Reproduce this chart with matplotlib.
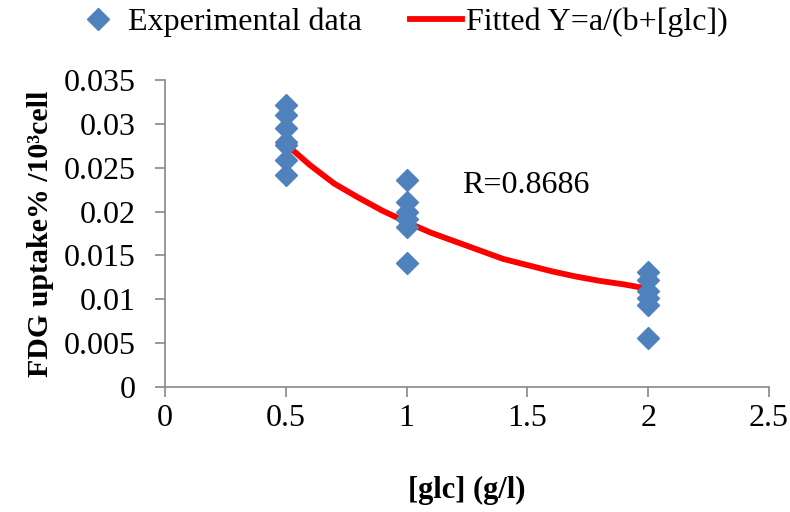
import matplotlib.pyplot as plt
import numpy as np

# ----- Data ----- #
glc_exp = [0.5, 0.5, 0.5, 0.5, 0.5, 0.5, 0.5,
           1, 1, 1, 1, 1, 1,
           2, 2, 2, 2, 2, 2]
uptake_exp = [0.0321, 0.0310, 0.0295, 0.0279, 0.0276, 0.0259, 0.0242,
              0.0236, 0.0211, 0.0199, 0.0192, 0.0183, 0.0141,
              0.0131, 0.0122, 0.0110, 0.0101, 0.0094, 0.0056]

glc_fit = [0.5, 0.6, 0.7, 0.8, 0.9, 1.0, 1.1, 1.2,
           1.3, 1.4, 1.5, 1.6, 1.7, 1.8, 1.9, 2.0]
uptake_fit = [0.0277, 0.0253, 0.0232, 0.0216, 0.0201, 0.0188, 0.0176, 0.0166,
              0.0156, 0.0146, 0.0139, 0.0132, 0.0126, 0.0121, 0.0117, 0.0112]

x_ticks = [0, 0.5, 1, 1.5, 2, 2.5]
x_tick_labels = ["0", "0.5", "1", "1.5", "2", "2.5"]
y_ticks = [0, 0.005, 0.01, 0.015, 0.02, 0.025, 0.03, 0.035]
y_tick_labels = ["0", "0.005", "0.01", "0.015", "0.02", "0.025", "0.03", "0.035"]

# ----- Plotting ----- #
plt.rcParams['font.family'] = ['Liberation Serif', 'DejaVu Serif']
plt.rcParams['font.size'] = 23

fig = plt.figure(figsize=(7.9, 5.12), dpi=100)
ax = fig.add_axes([0.2089, 0.2441, 0.7645, 0.5996])

ax.plot(glc_exp, uptake_exp, linestyle='none', marker='D', markersize=11,
        color='#4F81BD', label='Experimental data', zorder=3)
ax.plot(glc_fit, uptake_fit, color='#FF0000', linewidth=4.2,
        label='Fitted Y=a/(b+[glc])', zorder=2)

ax.text(1.23, 0.0230, 'R=0.8686', fontsize=23, va='center', ha='left')

ax.set_xlim(0, 2.5)
ax.set_ylim(0, 0.035)
ax.set_xticks(x_ticks)
ax.set_xticklabels(x_tick_labels)
ax.set_yticks(y_ticks)
ax.set_yticklabels(y_tick_labels)

for side in ['top', 'right']:
    ax.spines[side].set_visible(False)
for side in ['left', 'bottom']:
    ax.spines[side].set_color('#888888')
    ax.spines[side].set_linewidth(1.2)
ax.tick_params(axis='both', direction='out', length=7, width=1.2, color='#888888',
               labelsize=23)
ax.tick_params(axis='y', pad=14)
ax.tick_params(axis='x', pad=5)

ax.set_xlabel('[glc] (g/l)', fontsize=22, fontweight='bold', labelpad=31)
ax.set_ylabel('FDG uptake% /10³cell', fontsize=21.5, fontweight='bold', labelpad=7)

fig.legend(loc='center', bbox_to_anchor=(0.506, 0.957), ncol=2, frameon=False,
           fontsize=23, handlelength=1.65, handletextpad=0.1, columnspacing=1.5,
           borderaxespad=0)

fig.savefig('out.png', dpi=100)
